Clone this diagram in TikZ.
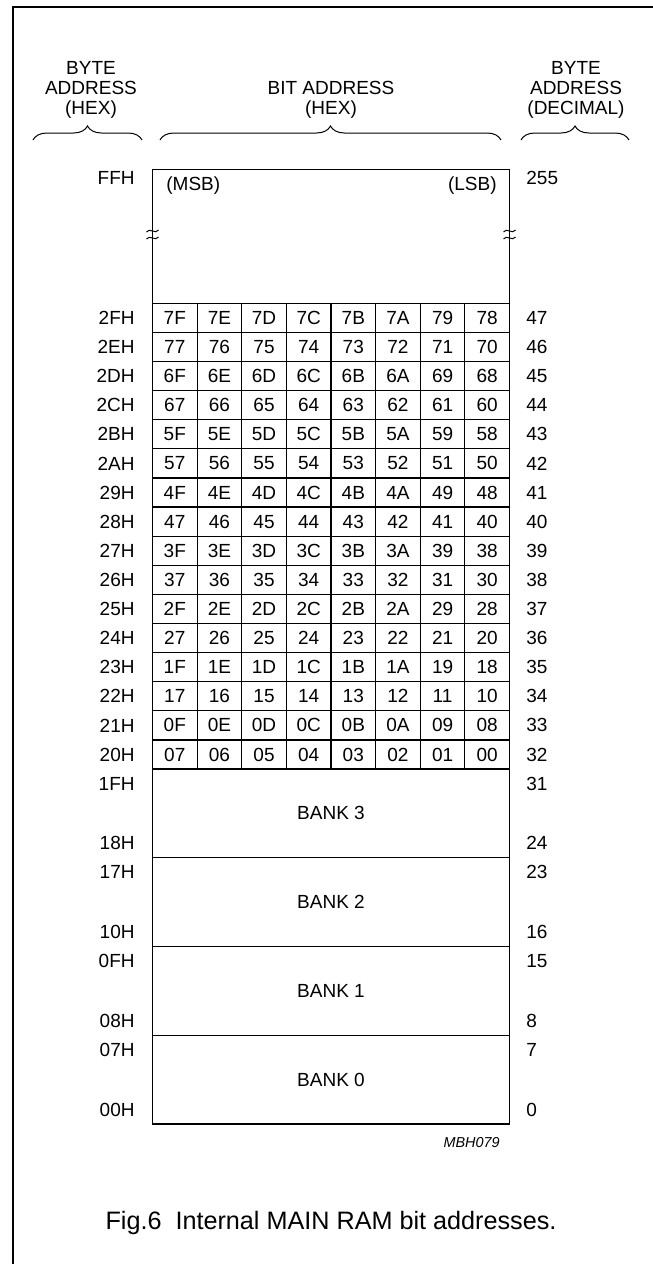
\documentclass[tikz,border=0pt]{standalone}
\usepackage{fontspec}
\setmainfont{Liberation Sans}
\usetikzlibrary{decorations.pathreplacing}

\tikzset{
  txt/.style={font=\fontsize{9.5}{10}\selectfont, inner sep=0pt},
  bitcell/.style={txt},
  addrhex/.style={txt, anchor=east},
  addrdec/.style={txt, anchor=west},
  headtxt/.style={txt, align=center},
  hbrace/.style={decorate, decoration={brace, amplitude=7pt}, line width=0.5pt},
  ramline/.style={line width=0.6pt},
}

\begin{document}
\begin{tikzpicture}[x=0.5pt,y=-0.5pt]
  \useasboundingbox (0,0) rectangle (653,1264);
  % frame (only top and left edge are in the picture)
  \draw[line width=1pt] (653,7) -- (13,7) -- (13,1264);

  % column headings and braces
  \node[headtxt] (head-hex) at (91,90)  {BYTE\\ADDRESS\\(HEX)};
  \node[headtxt] (head-bit) at (331,100) {BIT ADDRESS\\(HEX)};
  \node[headtxt] (head-dec) at (576,90) {BYTE\\ADDRESS\\(DECIMAL)};
  \draw[hbrace] (33,140) -- (142,140);
  \draw[hbrace] (160,140) -- (501,140);
  \draw[hbrace] (521,140) -- (629,140);

  % outer box of the RAM, 00H .. FFH
  \draw[ramline] (152.5,169.3) rectangle (509.5,1124);
  \node[addrhex] (hex-top) at (135,178) {FFH};
  \node[addrdec] (dec-top) at (526,178) {255};
  \node[txt, anchor=west] (msb) at (166,186) {(MSB)};
  \node[txt, anchor=east] (lsb) at (497,186) {(LSB)};

  % break marks on both sides
  \foreach \xb in {152.5,509.5}{
    \foreach \yb in {231,238}{
      \draw[line width=0.5pt] (\xb-6,\yb+1) .. controls (\xb-3,\yb-4) and (\xb+3,\yb+4) .. (\xb+6,\yb-1);
    }
  }

  % bit addressable area 20H .. 2FH: 16 rows of 8 bits
  \foreach \k in {0,...,16}{
    \draw[ramline] (152.5,{303.3+29.11*\k}) -- (509.5,{303.3+29.11*\k});
  }
  \foreach \k in {1,...,7}{
    \draw[ramline] ({152.5+44.625*\k},303.3) -- ({152.5+44.625*\k},769);
  }
  \foreach \r in {0,...,15}{
    \pgfmathtruncatemacro\byte{47-\r}
    \pgfmathdectoBase{\bytehex}{\byte}{16}
    \node[addrhex] (hex-\r) at (135,{303.3+29.11*(\r+0.5)}) {\bytehex H};
    \node[addrdec] (dec-\r) at (526,{303.3+29.11*(\r+0.5)}) {\byte};
    \foreach \c in {0,...,7}{
      \pgfmathtruncatemacro\bitno{(15-\r)*8+7-\c}
      \pgfmathdectoBase{\bithex}{\bitno}{16}
      \node[bitcell] (bit-\r-\c) at ({152.5+44.625*(\c+0.5)},{303.3+29.11*(\r+0.5)})
        {\ifnum\bitno<16 0\fi\bithex};
    }
  }

  % register banks 00H .. 1FH
  \foreach \k in {1,2,3}{
    \draw[ramline] (152.5,{769+88.75*\k}) -- (509.5,{769+88.75*\k});
  }
  \foreach \k/\bank/\tophex/\bothex/\topdec/\botdec in
      {0/3/1F/18/31/24, 1/2/17/10/23/16, 2/1/0F/08/15/8, 3/0/07/00/7/0}{
    \node[addrhex] (hex-b\bank t) at (135,{769+88.75*\k+14.5}) {\tophex H};
    \node[addrhex] (hex-b\bank b) at (135,{769+88.75*(\k+1)-14.5}) {\bothex H};
    \node[addrdec] (dec-b\bank t) at (526,{769+88.75*\k+14.5}) {\topdec};
    \node[addrdec] (dec-b\bank b) at (526,{769+88.75*(\k+1)-14.5}) {\botdec};
    \node[txt] (bank-\bank) at (331,{769+88.75*(\k+0.5)}) {BANK \bank};
  }

  \node[txt, font=\fontsize{7.2}{8}\selectfont\itshape, anchor=east] (code) at (500,1143) {MBH079};
  \node[txt, font=\fontsize{12.6}{14}\selectfont] (caption) at (331,1223)
    {Fig.6\ \ Internal MAIN RAM bit addresses.};
\end{tikzpicture}
\end{document}
